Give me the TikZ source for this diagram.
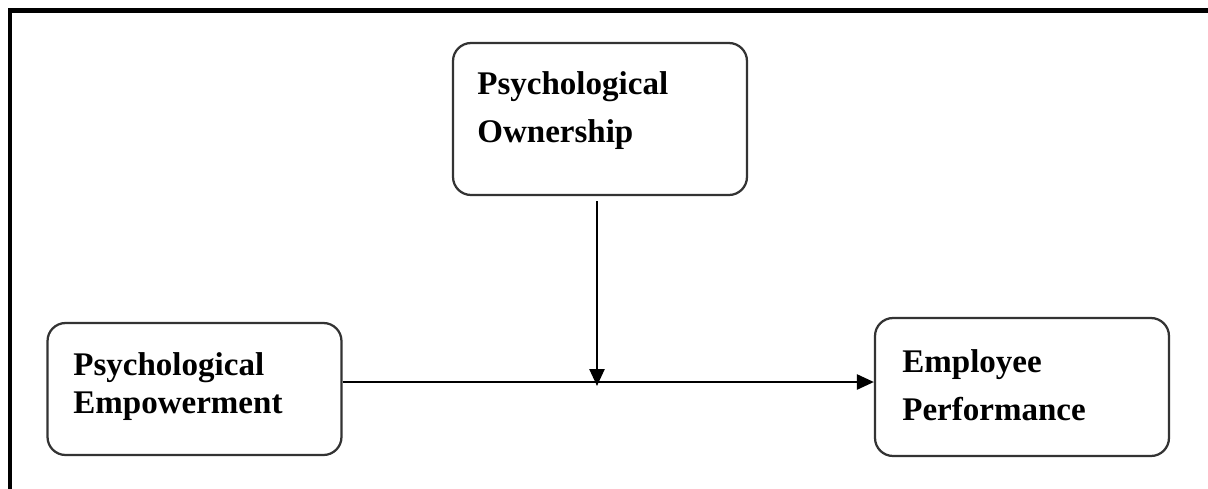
\documentclass[tikz,border=0pt]{standalone}
\usepackage{fontspec}
\setmainfont{Liberation Serif}
\usetikzlibrary{arrows.meta}

\begin{document}
\begin{tikzpicture}[x=0.02cm, y=-0.02cm, >={Triangle[length=0.34cm,width=0.3cm]},
	box/.style={draw=black!80, line width=0.045cm, rounded corners=0.36cm, minimum width=5.88cm},
	boxtext/.style={anchor=base west, align=left, inner sep=0pt, font=\bfseries\fontsize{18.8}{27.2}\selectfont}]
\useasboundingbox (0,0) rectangle (1208,488);
\draw[line width=0.1cm] (10,495) -- (10,10.5) -- (1215,10.5);

\path (600,119) node[box, minimum height=3.04cm] (po) {}
	  (194.5,389) node[box, minimum height=2.64cm] (pe) {}
	  (1022,387) node[box, minimum height=2.76cm] (ep) {};

% anchor base = baseline of the last line
\path (477,142) node[boxtext] (po text) {Psychological\\Ownership}
	  (73,413) node[boxtext, font=\bfseries\fontsize{18.8}{21.5}\selectfont] (pe text) {Psychological\\Empowerment}
	  (902,420) node[boxtext] (ep text) {Employee\\Performance};

\coordinate (mid) at (597,382);
\draw[line width=0.05cm, ->] (pe.east |- mid) -- (ep.west |- mid);
\draw[line width=0.05cm, ->, shorten <=0.1cm, shorten >=-0.08cm] (po.south -| mid) -- (mid);
\end{tikzpicture}
\end{document}
